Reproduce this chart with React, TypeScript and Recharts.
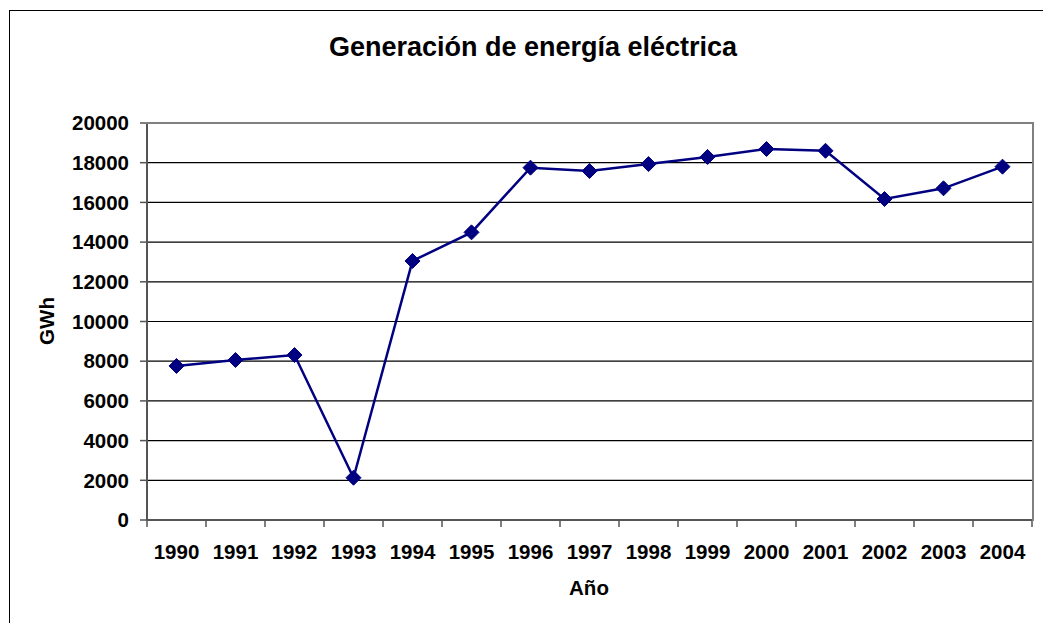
import { CartesianGrid, Line, LineChart, XAxis, YAxis } from "recharts";

const years = [
  "1990", "1991", "1992", "1993", "1994", "1995", "1996", "1997",
  "1998", "1999", "2000", "2001", "2002", "2003", "2004",
];
const gwh = [
  7760, 8060, 8310, 2130, 13050, 14490, 17750, 17580,
  17930, 18290, 18690, 18600, 16170, 16710, 17800,
];
const yTicks = [0, 2000, 4000, 6000, 8000, 10000, 12000, 14000, 16000, 18000, 20000];

// x position = category index + 0.5 so points sit between boundary ticks (Excel style)
const data = years.map((year, i) => ({ year, pos: i + 0.5, value: gwh[i] }));
const xTicks = Array.from({ length: years.length * 2 + 1 }, (_, i) => i / 2);

const FONT = '"Liberation Sans", Arial, sans-serif';
const NAVY = "#000080";

const Diamond = (props: { cx?: number; cy?: number }) => {
  const { cx, cy } = props;
  if (cx == null || cy == null) return null;
  const r = 7.5;
  return (
    <polygon
      points={`${cx},${cy - r} ${cx + r},${cy} ${cx},${cy + r} ${cx - r},${cy}`}
      fill={NAVY}
      stroke={NAVY}
    />
  );
};

const XTick = (props: { x?: number; y?: number; payload?: { value: number } }) => {
  const { x = 0, y = 0, payload } = props;
  const v = payload ? payload.value : 0;
  if (Number.isInteger(v)) {
    return <line x1={x} x2={x} y1={y} y2={y + 7} stroke="#555" strokeWidth={1.5} />;
  }
  return (
    <text
      x={x}
      y={y + 39}
      textAnchor="middle"
      fontFamily={FONT}
      fontWeight="bold"
      fontSize={20.5}
      fill="#000"
    >
      {years[Math.floor(v)]}
    </text>
  );
};

export default function App() {
  return (
    <div
      style={{
        position: "absolute",
        left: 0,
        top: 0,
        width: 1043,
        height: 623,
        overflow: "hidden",
        background: "#fff",
        fontFamily: FONT,
      }}
    >
      <div
        style={{
          position: "absolute",
          left: 9,
          top: 10,
          width: 1100,
          height: 700,
          border: "1px solid #000",
        }}
      />
      <div
        style={{
          position: "absolute",
          left: 0,
          top: 30,
          width: 1066,
          textAlign: "center",
          fontWeight: "bold",
          fontSize: 27,
          lineHeight: "34px",
        }}
      >
        Generación de energía eléctrica
      </div>
      <div
        style={{
          position: "absolute",
          left: 47,
          top: 321,
          transform: "translate(-50%, -50%) rotate(-90deg)",
          fontWeight: "bold",
          fontSize: 20.5,
          whiteSpace: "nowrap",
        }}
      >
        GWh
      </div>
      <div
        style={{
          position: "absolute",
          left: 589,
          top: 588,
          transform: "translate(-50%, -50%)",
          fontWeight: "bold",
          fontSize: 20.5,
        }}
      >
        Año
      </div>
      <div style={{ position: "absolute", left: 0, top: 0 }}>
        <LineChart
          width={1043}
          height={623}
          data={data}
          margin={{ top: 123, right: 11, left: 0, bottom: 0 }}
        >
          <CartesianGrid vertical={false} stroke="#000" strokeWidth={1.2} />
          <XAxis
            dataKey="pos"
            type="number"
            domain={[0, years.length]}
            ticks={xTicks}
            interval={0}
            tick={<XTick />}
            tickLine={false}
            tickSize={0}
            tickMargin={0}
            height={103}
            axisLine={{ stroke: "#555", strokeWidth: 2 }}
          />
          <YAxis
            domain={[0, 20000]}
            ticks={yTicks}
            interval={0}
            width={147}
            tickSize={7}
            tickMargin={11}
            tick={{ fill: "#000", fontSize: 20.5, fontWeight: "bold", fontFamily: FONT }}
            tickLine={{ stroke: "#555", strokeWidth: 1.5 }}
            axisLine={{ stroke: "#555", strokeWidth: 2 }}
          />
          <Line
            dataKey="value"
            stroke={NAVY}
            strokeWidth={2.5}
            dot={<Diamond />}
            activeDot={false}
            isAnimationActive={false}
          />
        </LineChart>
      </div>
      {/* plot area frame: gray top and right edges */}
      <div
        style={{
          position: "absolute",
          left: 146,
          top: 122,
          width: 886,
          height: 397,
          borderTop: "2px solid #808080",
          borderRight: "2px solid #808080",
          pointerEvents: "none",
        }}
      />
    </div>
  );
}
